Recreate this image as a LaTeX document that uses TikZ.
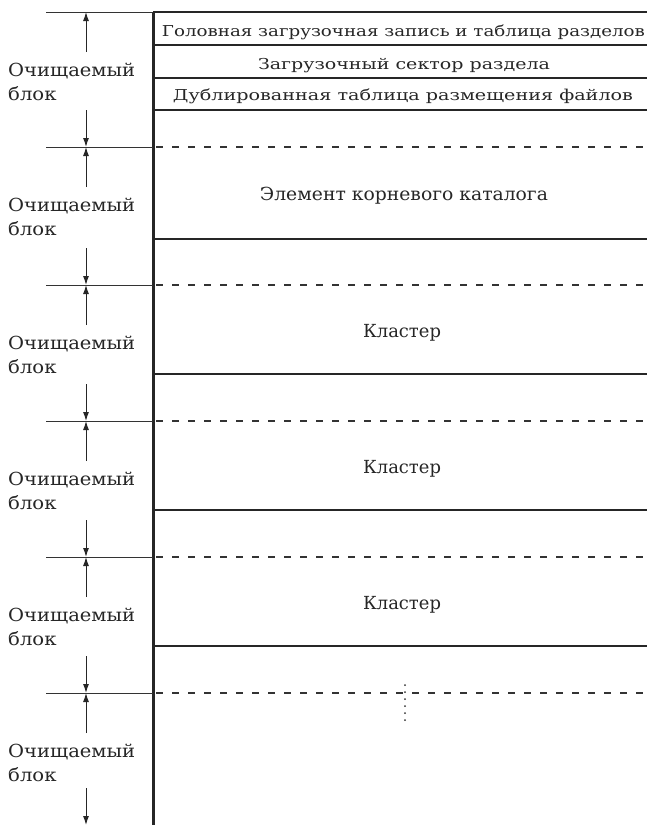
\documentclass[tikz,border=0pt]{standalone}
\usepackage{fontspec}
\setmainfont{DejaVu Serif}
\usetikzlibrary{arrows.meta}
\newcommand{\fitw}[2]{\resizebox{#1}{\height}{#2}}
\begin{document}
\begin{tikzpicture}[x=1pt,y=-1pt,
  toptxt/.style={font=\fontsize{15}{18}\selectfont, text=black!85, inner sep=0pt, anchor=base},
  txt/.style={font=\fontsize{18}{22}\selectfont, text=black!85, inner sep=0pt, anchor=base},
  blocklabel/.style={font=\fontsize{18}{24}\selectfont, text=black!85, inner sep=0pt, anchor=base west},
  heavy/.style={line width=3pt, draw=black!85},
  rowline/.style={line width=2pt, draw=black!85},
  dashline/.style={line width=1.8pt, draw=black!80, dash pattern=on 7pt off 9pt},
  thinline/.style={line width=1pt, draw=black!80},
  dimarrow/.style={line width=1pt, draw=black!85, -{Latex[length=9pt,width=6pt]}},
  dotline/.style={line width=2pt, draw=black!80, dash pattern=on 0pt off 7pt, line cap=round}
]
\useasboundingbox (0,0) rectangle (647,825);
% main vertical
\coordinate (vtop) at (153,12);
\coordinate (vbot) at (153,825);
\draw[heavy] (vtop) -- (vbot);
% top line
\coordinate (lefttop) at (46,12);
\coordinate (righttop) at (647,12);
\draw[thinline] (lefttop) -- (vtop);
\draw[rowline] (vtop) -- (righttop);
% header rows
\foreach \y/\n in {45/a,78/b,110/c}{
  \coordinate (r\n l) at (153,\y);
  \coordinate (r\n r) at (647,\y);
  \draw[rowline] (r\n l) -- (r\n r);
}
\node[toptxt] (mbr) at (403.5,36) {\fitw{483pt}{Головная загрузочная запись и таблица разделов}};
\node[toptxt] (boot) at (404,69) {\fitw{292pt}{Загрузочный сектор раздела}};
\node[toptxt] (fat) at (403,100) {\fitw{460pt}{Дублированная таблица размещения файлов}};
% dashed and solid lines in right area
\foreach \y/\n in {147/1,285/2,421/3,557/4,693/5}{
  \coordinate (dl\n) at (153,\y);
  \coordinate (dr\n) at (647,\y);
  \coordinate (ll\n) at (46,\y);
  \draw[dashline] ([xshift=3pt]dl\n) -- (dr\n);
  \draw[thinline] (ll\n) -- (dl\n);
}
\foreach \y/\n in {239/1,374/2,510/3,646/4}{
  \coordinate (sl\n) at (153,\y);
  \coordinate (sr\n) at (647,\y);
  \draw[rowline] (sl\n) -- (sr\n);
}
\node[txt] (root) at (404,200) {\fitw{288pt}{Элемент корневого каталога}};
\node[txt] (cl1) at (402,337) {\fitw{78pt}{Кластер}};
\node[txt] (cl2) at (402,473) {\fitw{78pt}{Кластер}};
\node[txt] (cl3) at (402,609) {\fitw{78pt}{Кластер}};
% dotted continuation
\coordinate (dotA) at (405,685);
\coordinate (dotB) at (405,721);
\draw[dotline] (dotA) -- (dotB);
% block arrows and labels
\foreach \t/\b/\n in {12/147/1,147/285/2,285/421/3,421/557/4,557/693/5,693/825/6}{
  \coordinate (at\n) at (86,\t);
  \coordinate (as\n) at (86,\t+40);
  \coordinate (bs\n) at (86,\b-37);
  \coordinate (bt\n) at (86,\b);
  \draw[dimarrow] (as\n) -- (at\n);
  \draw[dimarrow] (bs\n) -- (bt\n);
  \node[blocklabel] (lab\n) at (8,\t+64.5) {\fitw{127pt}{Очищаемый}};
  \node[blocklabel] (lab\n b) at (8,\t+88.5) {\scalebox{1.09}[1]{блок}};
}
\end{tikzpicture}
\end{document}
